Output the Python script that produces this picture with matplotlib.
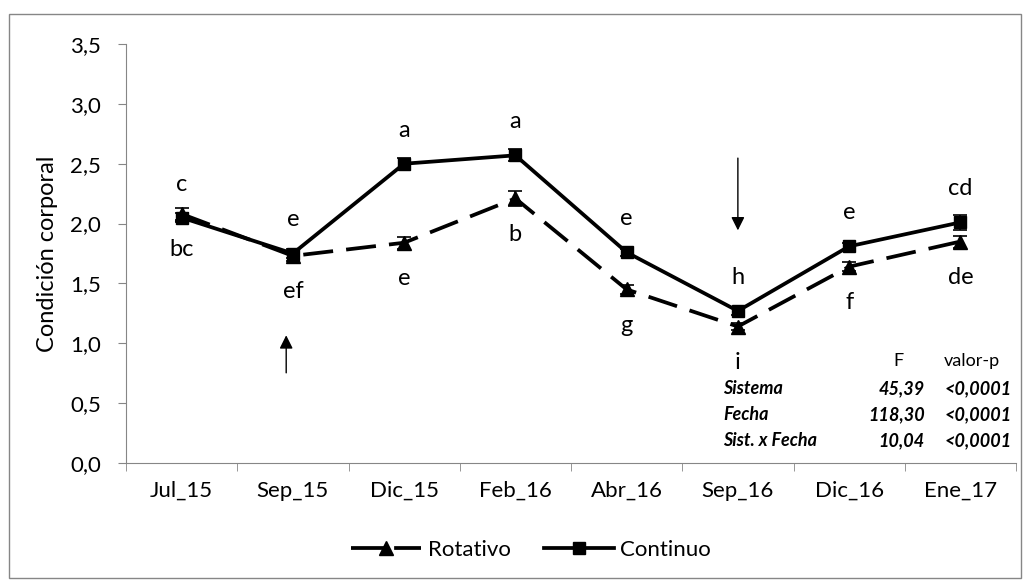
import matplotlib
matplotlib.use("Agg")
import matplotlib.pyplot as plt
import numpy as np
from matplotlib.patches import Rectangle
from matplotlib.lines import Line2D

plt.rcParams['font.family'] = ['Lato', 'DejaVu Sans']

# datos
fechas = ['Jul_15', 'Sep_15', 'Dic_15', 'Feb_16', 'Abr_16', 'Sep_16', 'Dic_16', 'Ene_17']
rotativo = [2.08, 1.73, 1.84, 2.21, 1.45, 1.14, 1.64, 1.85]
rotativo_err = [0.05, 0.04, 0.05, 0.06, 0.04, 0.03, 0.04, 0.05]
continuo = [2.05, 1.75, 2.50, 2.57, 1.76, 1.27, 1.81, 2.01]
continuo_err = [0.04, 0.04, 0.05, 0.05, 0.03, 0.03, 0.03, 0.06]
letras_cont = ['c', 'e', 'a', 'a', 'e', 'h', 'e', 'cd']
letras_rot = ['bc', 'ef', 'e', 'b', 'g', 'i', 'f', 'de']

tabla_filas = ['Sistema', 'Fecha', 'Sist. x Fecha']
tabla_F = ['45,39', '118,30', '10,04']
tabla_p = ['<0,0001', '<0,0001', '<0,0001']

fig = plt.figure(figsize=(10.28, 5.84), dpi=100)
ax = fig.add_axes([126/1028, 1 - 463/584, (1016-126)/1028, (463-44)/584])

x = np.arange(len(fechas))

ax.errorbar(x, rotativo, yerr=rotativo_err, color='black', lw=2.7,
            dashes=(8, 3.5), marker='^', ms=10, capsize=5, elinewidth=1.2,
            capthick=1.2)
ax.errorbar(x, continuo, yerr=continuo_err, color='black', lw=2.7,
            marker='s', ms=8.5, capsize=5, elinewidth=1.2, capthick=1.2)

for i in range(len(fechas)):
    ax.text(x[i], continuo[i] + 0.28, letras_cont[i], ha='center', va='center', fontsize=17)
    ax.text(x[i], rotativo[i] - 0.30, letras_rot[i], ha='center', va='center', fontsize=17)

# flechas
ax.annotate('', xy=(0.94, 1.09), xytext=(0.94, 0.73),
            arrowprops=dict(arrowstyle='-|>', color='black', lw=1, mutation_scale=20))
ax.annotate('', xy=(5.0, 1.92), xytext=(5.0, 2.57),
            arrowprops=dict(arrowstyle='-|>', color='black', lw=1, mutation_scale=20))

# tabla de significancia
fs = 13
ax.text(6.44, 0.85, 'F', ha='center', va='center', fontsize=fs)
ax.text(7.10, 0.85, 'valor-p', ha='center', va='center', fontsize=fs)
for j, fila in enumerate(tabla_filas):
    yy = 0.62 - j * 0.215
    ax.text(4.87, yy, fila, ha='left', va='center', fontsize=fs,
            fontweight='bold', fontstyle='italic')
    ax.text(6.68, yy, tabla_F[j], ha='right', va='center', fontsize=fs,
            fontweight='bold', fontstyle='italic')
    ax.text(7.46, yy, tabla_p[j], ha='right', va='center', fontsize=fs,
            fontweight='bold', fontstyle='italic')

ax.set_xlim(-0.5, 7.5)
ax.set_ylim(0, 3.5)
yt = np.arange(0, 3.51, 0.5)
ax.set_yticks(yt)
ax.set_yticklabels([f'{v:.1f}'.replace('.', ',') for v in yt])
ax.set_xticks(x)
ax.set_xticklabels(fechas)
ax.set_xticks(np.arange(-0.5, 7.6, 1), minor=True)
ax.tick_params(axis='x', which='major', length=0, pad=13, labelsize=16)
ax.tick_params(axis='x', which='minor', length=6, color='#868686', direction='out')
ax.tick_params(axis='y', length=6, color='#868686', labelsize=16, pad=12)
ax.set_ylabel('Condición corporal', fontsize=17)
ax.yaxis.set_label_coords(-0.076, 0.5)

for s in ['top', 'right']:
    ax.spines[s].set_visible(False)
for s in ['left', 'bottom']:
    ax.spines[s].set_color('#868686')

handles = [Line2D([], [], color='black', lw=2.7, dashes=(10, 1.5), marker='^', ms=10),
           Line2D([], [], color='black', lw=2.7, marker='s', ms=8.5)]
fig.legend(handles, ['Rotativo', 'Continuo'], loc='center',
           bbox_to_anchor=(531/1028, 1 - 550/584), ncol=2, frameon=False,
           fontsize=16, handlelength=3.15, columnspacing=1.5, handletextpad=0.3)

fig.add_artist(Rectangle((9/1028, 6/584), 1012/1028, 564/584, transform=fig.transFigure,
                         fill=False, edgecolor='#868686', lw=1))

fig.savefig('out.png', dpi=100)
